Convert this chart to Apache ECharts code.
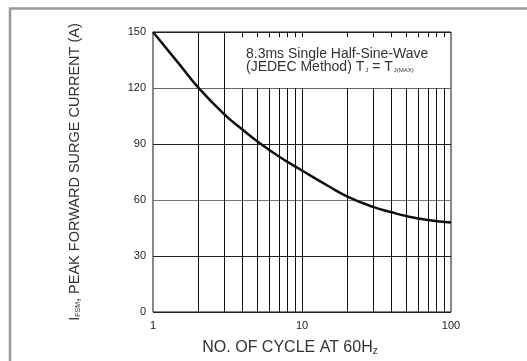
<!DOCTYPE html>
<html><head><meta charset="utf-8">
<script src="https://cdn.jsdelivr.net/npm/echarts@6/dist/echarts.min.js"></script>
<style>html,body{margin:0;padding:0;background:#fff}#c{width:527px;height:361px}</style>
</head><body><div id="c"></div>
<script>
var cycles = [1, 1.5, 2, 3, 4, 5, 7, 10, 15, 20, 30, 40, 50, 70, 100];
var current = [150, 132.8, 120.5, 106, 97.6, 91.5, 83.3, 75.8, 67.5, 62, 56.3, 53.4, 51.4, 49.3, 48];
var xTicks = [1, 10, 100];
var yTicks = [0, 30, 60, 90, 120, 150];
var fullGrid = [2, 3];
var boxedGrid = [4, 5, 6, 7, 8, 9, 10, 20, 30, 40, 50, 60, 70, 80, 90];
var boxBottom = 120, yTop = 150, tickLen = 2.8;

var lines = [];
fullGrid.forEach(function (v) { lines.push([{coord: [v, 0]}, {coord: [v, yTop]}]); });
boxedGrid.forEach(function (v) {
  lines.push([{coord: [v, 0]}, {coord: [v, boxBottom]}]);
  lines.push([{coord: [v, yTop - tickLen]}, {coord: [v, yTop]}]);
});

var FF = 'Liberation Sans, Arial, sans-serif';
var chart = echarts.init(document.getElementById('c'), null, {renderer: 'canvas'});
chart.setOption({
  animation: false,
  backgroundColor: '#fff',
  grid: {left: 153, right: 76, top: 32, bottom: 49, show: true, borderColor: '#111', borderWidth: 1},
  xAxis: {
    type: 'log', logBase: 10, min: 1, max: 100,
    axisLine: {show: false}, axisTick: {show: false}, splitLine: {show: false},
    axisLabel: {color: '#222', fontSize: 11, fontFamily: FF, margin: 8,
      formatter: function (v) { return xTicks.indexOf(v) >= 0 ? String(v) : ''; }},
    name: '{n|NO. OF CYCLE AT 60H}{s|z}', nameLocation: 'middle', nameGap: 27,
    nameTextStyle: {padding: [0, 24, 0, 0], rich: {
      n: {fontSize: 16, color: '#333', fontFamily: FF},
      s: {fontSize: 10, color: '#333', fontFamily: FF, verticalAlign: 'bottom', padding: [7, 0, 0, 0]}
    }}
  },
  yAxis: {
    type: 'value', min: 0, max: 150, interval: 30,
    axisLine: {show: false}, axisTick: {show: false},
    splitLine: {show: true, lineStyle: {color: ['#222', '#222', '#777', '#222', '#666', '#222'], width: 1}},
    axisLabel: {color: '#222', fontSize: 11, fontFamily: FF, margin: 7,
      formatter: function (v) { return yTicks.indexOf(v) >= 0 ? String(v) : ''; }},
    name: '{s|I}{t|FSM}{n|, PEAK FORWARD SURGE CURRENT (A)}', nameLocation: 'middle', nameGap: 71, nameRotate: 90,
    nameTextStyle: {rich: {
      s: {fontSize: 14.5, color: '#333', fontFamily: FF},
      t: {fontSize: 7, color: '#333', fontFamily: FF, verticalAlign: 'bottom', padding: [6, 0, 0, 0]},
      n: {fontSize: 14.5, color: '#333', fontFamily: FF}
    }}
  },
  series: [{
    type: 'line', data: cycles.map(function (c, i) { return [c, current[i]]; }),
    smooth: 0.5, symbol: 'none', lineStyle: {color: '#111', width: 2.5}, z: 5,
    markLine: {silent: true, symbol: 'none', label: {show: false},
      lineStyle: {color: '#111', width: 1, type: 'solid'}, data: lines}
  }],
  graphic: [
    {type: 'polyline', shape: {points: [[10, 361], [10, 8.5], [527, 8.5]]}, style: {stroke: '#9a9a9a', lineWidth: 2.5, fill: null}},
    {type: 'text', left: 246, top: 47, style: {
      text: '{a|8.3ms Single Half-Sine-Wave}\n{a|(JEDEC Method) T}{b|J}{a| = T}{b|J(MAX)}',
      rich: {
        a: {fontSize: 14, fill: '#333', fontFamily: FF, lineHeight: 13},
        b: {fontSize: 6, fill: '#333', fontFamily: FF, verticalAlign: 'bottom', lineHeight: 13, padding: [4, 0, 0, 1]}
      }}}
  ]
});
</script></body></html>
